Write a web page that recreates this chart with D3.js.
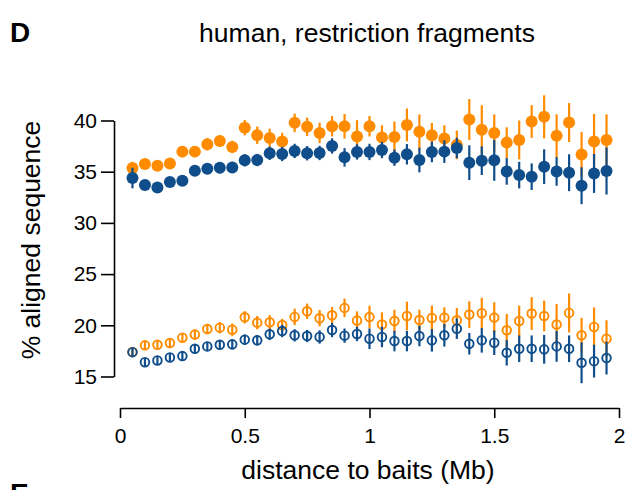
<!DOCTYPE html>
<html>
<head>
<meta charset="utf-8">
<script src="https://cdn.jsdelivr.net/npm/d3@7"></script>
<style>
  html, body { margin: 0; padding: 0; background: #fff; }
  svg { display: block; }
  text { font-family: "Liberation Sans", Arial, sans-serif; fill: #000; }
</style>
</head>
<body>
<svg id="chart" width="627" height="490"></svg>
<script>
// ---- data ----
const distance = [0.05,0.10,0.15,0.20,0.25,0.30,0.35,0.40,0.45,0.50,0.55,0.60,0.65,0.70,0.75,0.80,0.85,0.90,0.95,1.00,
                  1.05,1.10,1.15,1.20,1.25,1.30,1.35,1.40,1.45,1.50,1.55,1.60,1.65,1.70,1.75,1.80,1.85,1.90,1.95];

const orangeFilled = [35.36,35.75,35.59,35.8,36.96,36.96,37.68,38.0,37.42,39.3,38.56,38.3,37.94,39.77,39.38,38.79,39.44,39.44,38.43,39.44,
                      38.33,38.4,39.57,38.89,38.56,38.24,37.62,40.1,39.09,38.79,37.84,38.1,39.9,40.36,38.5,39.8,36.67,37.94,38.1];
const orangeFilledErr = [0.6,0.45,0.45,0.45,0.5,0.5,0.6,0.55,0.6,0.75,0.85,0.9,0.85,0.9,0.9,1.0,1.0,1.2,1.6,1.0,
                         1.2,1.5,1.6,1.7,1.2,1.3,1.4,2.0,2.4,1.8,1.5,1.9,1.6,2.1,2.1,1.9,2.2,2.7,2.5];

const blueFilled = [34.38,33.69,33.46,33.99,34.12,35.10,35.29,35.39,35.42,36.11,36.14,36.8,36.73,37.03,36.8,36.83,37.52,36.4,36.93,36.93,
                    37.12,36.37,36.7,36.14,36.93,36.96,37.32,35.88,36.08,36.11,35.03,34.67,34.51,35.49,35.03,34.9,33.63,34.83,35.07];
const blueFilledErr = [1.0,0.5,0.5,0.5,0.5,0.5,0.5,0.55,0.55,0.6,0.6,0.65,0.7,0.7,0.7,0.7,0.75,0.9,0.75,0.8,
                       0.8,0.8,1.0,1.2,1.0,1.1,1.0,1.7,1.4,2.0,1.3,1.3,1.3,1.7,1.4,1.8,1.8,1.9,2.3];

const orangeOpen = [17.4,18.04,18.1,18.27,18.79,19.09,19.64,19.77,19.57,20.78,20.26,20.29,20.03,20.82,21.37,20.69,20.98,21.7,20.46,20.81,
                    20.07,20.42,20.91,20.52,20.72,20.75,20.49,21.05,21.18,20.75,19.51,20.42,21.15,20.91,20.07,21.21,19.02,19.84,18.69];
const orangeOpenErr = [0.4,0.4,0.4,0.45,0.45,0.5,0.5,0.55,0.6,0.6,0.65,0.7,0.6,0.8,0.75,0.8,0.8,0.9,0.9,1.1,
                       1.2,1.1,1.4,1.0,1.2,1.0,1.2,1.3,1.5,1.5,1.6,1.5,1.6,1.5,2.0,1.9,1.7,1.9,1.8];

const blueOpen = [17.38,16.4,16.57,16.86,16.99,17.71,17.94,18.1,18.14,18.6,18.53,19.12,19.44,19.02,18.95,18.86,19.54,18.99,19.15,18.69,
                  18.86,18.46,18.46,18.95,18.53,19.02,19.67,18.2,18.53,18.3,17.32,17.71,17.71,17.65,17.94,17.71,16.34,16.5,16.8];
const blueOpenErr = [0.4,0.4,0.4,0.4,0.4,0.45,0.45,0.45,0.5,0.5,0.5,0.55,0.6,0.6,0.6,0.65,0.7,0.7,0.7,1.0,
                     1.0,1.0,1.0,1.0,1.1,1.1,1.0,1.05,1.2,1.2,1.25,1.3,1.3,1.4,1.5,1.3,2.0,1.6,1.6];

const xTicks = [0, 0.5, 1, 1.5, 2];
const xTickLabels = ["0", "0.5", "1", "1.5", "2"];
const yTicks = [15, 20, 25, 30, 35, 40];
const yTickLabels = ["15", "20", "25", "30", "35", "40"];

const titleText = "human, restriction fragments";
const xLabel = "distance to baits (Mb)";
const yLabel = "% aligned sequence";

// ---- drawing ----
const ORANGE = "#FF8C00";
const BLUE = "#104E8B";

const svg = d3.select("#chart");
const x = d3.scaleLinear().domain([0, 2]).range([120, 619]);
const y = d3.scaleLinear().domain([15, 40]).range([376.5, 120.5]);

// panel letters
svg.append("text").attr("x", 10).attr("y", 42)
  .style("font-size", "28px").style("font-weight", "bold").text("D");
svg.append("text").attr("x", 10).attr("y", 503)
  .style("font-size", "28px").style("font-weight", "bold").text("E");

// title
svg.append("text").attr("x", 367).attr("y", 42).attr("text-anchor", "middle")
  .style("font-size", "26.5px").text(titleText);

// x axis
const xAxis = d3.axisBottom(x).tickValues(xTicks)
  .tickFormat((d, i) => xTickLabels[i]).tickSize(10).tickSizeOuter(0).tickPadding(10);
const gx = svg.append("g").attr("transform", "translate(0,408)").call(xAxis);
gx.select(".domain").attr("stroke-width", 1.6);
gx.selectAll(".tick line").attr("stroke-width", 1.6);
gx.selectAll(".tick text").style("font-size", "21px").style("font-family", "Liberation Sans, Arial, sans-serif");

// y axis
const yAxis = d3.axisLeft(y).tickValues(yTicks)
  .tickFormat((d, i) => yTickLabels[i]).tickSize(13).tickSizeOuter(0).tickPadding(4);
const gy = svg.append("g").attr("transform", "translate(114,0)").call(yAxis);
gy.select(".domain").attr("stroke-width", 1.6);
gy.selectAll(".tick line").attr("stroke-width", 1.6);
gy.selectAll(".tick text").style("font-size", "21px").style("font-family", "Liberation Sans, Arial, sans-serif");

// axis labels
svg.append("text").attr("x", 368).attr("y", 479).attr("text-anchor", "middle")
  .style("font-size", "26.5px").text(xLabel);
svg.append("text").attr("transform", "translate(40,240) rotate(-90)").attr("text-anchor", "middle")
  .style("font-size", "26.5px").text(yLabel);

function drawSeries(vals, errs, color, filled) {
  const data = distance.map((d, i) => ({ d, v: vals[i], e: errs[i] }));
  const g = svg.append("g");
  g.selectAll("line").data(data).enter().append("line")
    .attr("x1", p => x(p.d)).attr("x2", p => x(p.d))
    .attr("y1", p => y(p.v - p.e)).attr("y2", p => y(p.v + p.e))
    .attr("stroke", color).attr("stroke-width", 2.2);
  g.selectAll("circle").data(data).enter().append("circle")
    .attr("cx", p => x(p.d)).attr("cy", p => y(p.v))
    .attr("r", filled ? 6 : 4.3)
    .attr("fill", filled ? color : "none")
    .attr("stroke", color).attr("stroke-width", filled ? 0 : 1.9);
}

drawSeries(orangeFilled, orangeFilledErr, ORANGE, true);
drawSeries(blueFilled, blueFilledErr, BLUE, true);
drawSeries(orangeOpen, orangeOpenErr, ORANGE, false);
drawSeries(blueOpen, blueOpenErr, BLUE, false);
</script>
</body>
</html>
